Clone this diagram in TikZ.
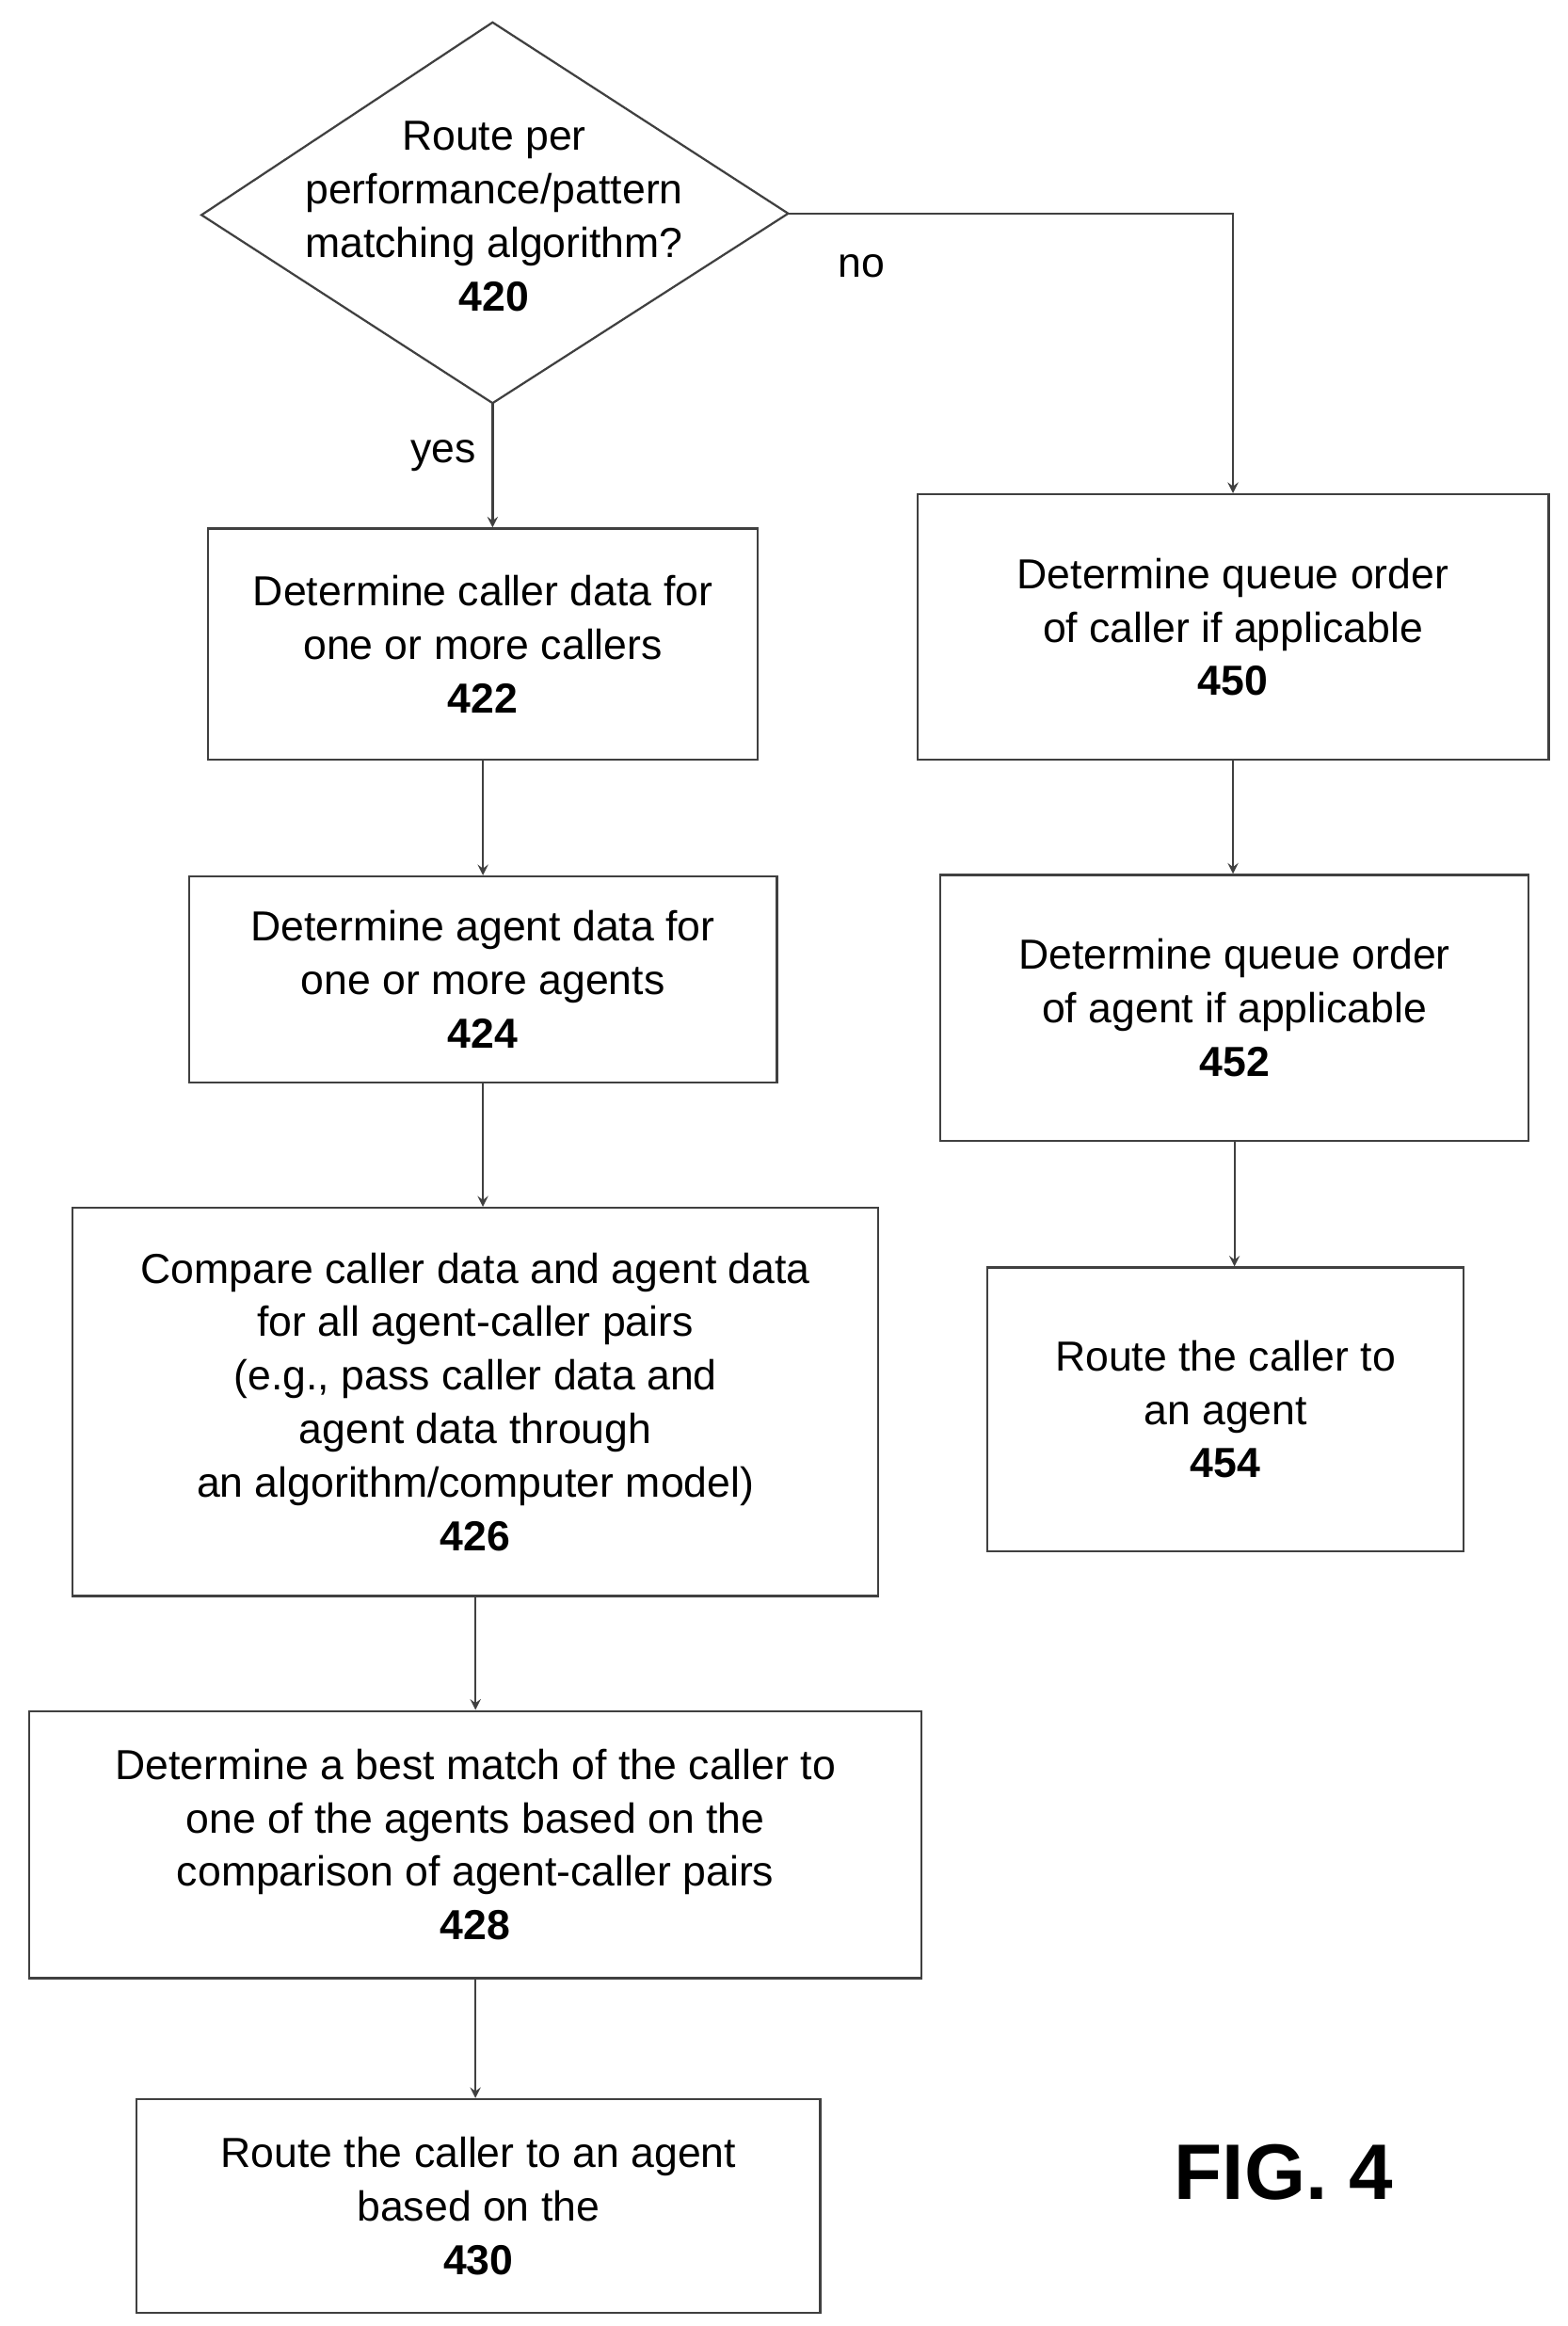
\documentclass[tikz,border=0pt]{standalone}
\usepackage{fontspec}
\setmainfont{Liberation Sans}
\usetikzlibrary{arrows}
\begin{document}
\begin{tikzpicture}[
x=0.02cm, y=-0.02cm,
box/.style={
  draw=black!75,
  rectangle,
  thick,
  align=center,
  inner sep=0pt,
  font=\fontsize{16}{20.4}\selectfont
  },
lbl/.style={
  font=\fontsize{16}{20}\selectfont
  },
>=stealth
]
\useasboundingbox (0,0) rectangle (1050,1558);

% decision 420
\coordinate (dtop) at (330,15);
\coordinate (dwest) at (135,144);
\coordinate (deast) at (528,143);
\coordinate (dsouth) at (330,270);
\draw[thick, black!75] (dtop) -- (deast) -- (dsouth) -- (dwest) -- cycle;
\node[box, draw=none] (d420) at (331,145) {Route per\\performance/pattern\\matching algorithm?\\\textbf{420}};

% left branch
\node[box, minimum width=7.36cm, minimum height=3.1cm] (b422) at (323.5,431.5)
  {Determine caller data for\\one or more callers\\\textbf{422}};
\node[box, minimum width=7.88cm, minimum height=2.76cm] (b424) at (323.5,656)
  {Determine agent data for\\one or more agents\\\textbf{424}};
\node[box, minimum width=10.8cm, minimum height=5.2cm] (b426) at (318.5,939)
  {Compare caller data and agent data\\for all agent-caller pairs\\(e.g., pass caller data and\\agent data through\\an algorithm/computer model)\\\textbf{426}};
\node[box, minimum width=11.96cm, minimum height=3.58cm] (b428) at (318.5,1235.5)
  {Determine a best match of the caller to\\one of the agents based on the\\comparison of agent-caller pairs\\\textbf{428}};
\node[box, minimum width=9.16cm, minimum height=2.86cm] (b430) at (320.5,1477.5)
  {Route the caller to an agent\\based on the\\\textbf{430}};

% right branch
\node[box, minimum width=8.46cm, minimum height=3.56cm] (b450) at (826,420)
  {Determine queue order\\of caller if applicable\\\textbf{450}};
\node[box, minimum width=7.88cm, minimum height=3.56cm] (b452) at (827,675)
  {Determine queue order\\of agent if applicable\\\textbf{452}};
\node[box, minimum width=6.38cm, minimum height=3.8cm] (b454) at (821,944)
  {Route the caller to\\an agent\\\textbf{454}};

\coordinate (turn) at (826,143);
\node[lbl] (no) at (577,178) {no};
\node[lbl] (yes) at (297,305) {yes};
\node[font=\fontsize{30}{34}\selectfont\bfseries] (fig) at (860,1455) {FIG. 4};

\draw[->, thick, black!75] (dsouth) -- (dsouth |- b422.north);
\draw[->, thick, black!75] (deast) -- (turn) -- (b450.north);
\foreach \a/\b in {b422/b424,b424/b426,b426/b428,b428/b430,b450/b452,b452/b454}
  \draw[->, thick, black!75] (\a.south) -- (\a.south |- \b.north);
\end{tikzpicture}
\end{document}
